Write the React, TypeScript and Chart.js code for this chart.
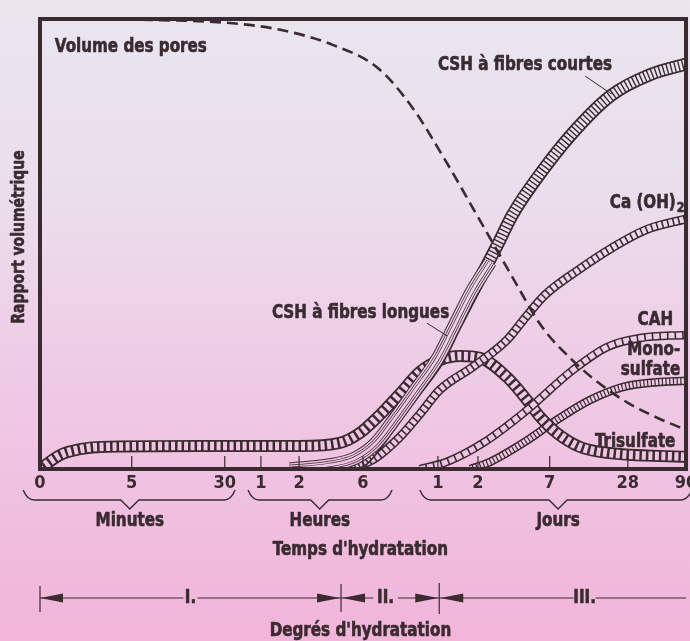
import React, { useEffect, useRef } from 'react';
import { Chart, registerables } from 'chart.js';

Chart.register(...registerables);

// ---------- data (x: position along the time axis 0-100, y: relative volume 0-100) ----------
const TICK_POS = [0, 14.2, 28.6, 34.2, 40.1, 50.0, 61.6, 67.8, 78.9, 91.0, 100];
const TICK_LABELS = ['0', '5', '30', '1', '2', '6', '1', '2', '7', '28', '90'];

const poreX = [0, 17.0, 29.4, 37.2, 45.4, 52.3, 57.6, 62.7, 67.8, 73.1, 77.7, 82.4, 85.9, 91.0, 96.3, 100];
const poreY = [100, 99.8, 99.1, 97.6, 94.2, 89.1, 80.4, 68.7, 56.0, 42.7, 31.6, 24.2, 19.8, 14.7, 10.9, 8.7];

const trisulfateX = [0, 3.1, 6.2, 9.3, 24.8, 40.2, 46.4, 49.5, 52.6, 55.7, 58.8, 61.9, 65.0, 68.1, 72.3, 75.4, 77.4, 80.0, 83.6, 87.8, 100];
const trisulfateY = [0, 3.1, 4.4, 4.9, 5.1, 5.1, 5.8, 8.0, 12.0, 16.7, 21.6, 24.2, 25.1, 24.7, 20.4, 15.3, 11.6, 8.0, 4.9, 3.6, 2.7];

const cshLongX = [38.7, 44.9, 48.8, 51.9, 55.0, 58.0, 61.6, 64.2, 66.9, 69.7];
const cshLongY = [0, 0.9, 2.4, 5.6, 11.3, 17.3, 24.7, 32.0, 39.6, 46.0];

const cshShortX = [46.4, 50.0, 51.9, 55.0, 58.0, 61.6, 64.2, 66.9, 69.2, 71.2, 73.1, 78.2, 83.3, 88.5, 94.4, 100];
const cshShortY = [0, 2.0, 5.1, 11.3, 17.1, 24.2, 31.6, 39.1, 45.3, 50.9, 56.4, 67.1, 76.0, 83.1, 87.6, 90.0];

const caohX = [48.0, 51.9, 55.7, 58.8, 61.9, 67.0, 72.3, 75.1, 78.2, 83.3, 88.5, 93.7, 100];
const caohY = [0, 2.4, 7.1, 12.2, 17.6, 22.7, 28.7, 33.6, 38.7, 44.2, 49.1, 53.1, 55.6];

const cahX = [58.8, 63.0, 68.6, 74.8, 82.5, 87.8, 92.9, 100];
const cahY = [0, 1.6, 5.8, 12.4, 22.0, 27.1, 29.1, 29.8];

const monoX = [66.6, 69.7, 74.8, 80.0, 85.1, 90.2, 95.5, 100];
const monoY = [0, 1.6, 5.8, 10.9, 15.3, 18.2, 19.3, 19.6];

// ---------- styles ----------
const INK = '#3a2b31';
const W = 690;
const H = 641;

// font chosen at runtime: a condensed bold sans, like the original typeface
const FONT = { family: "'DejaVu Sans Condensed', sans-serif", weight: 'bold', sx: 1 };

function pickFont() {
  const c = document.createElement('canvas').getContext('2d');
  if (!c) return;
  const sample = 'Volume des pores';
  const cands = ['Roboto', 'Open Sans', 'Noto Sans'];
  for (const fam of cands) {
    c.font = `bold 19px '${fam}'`;
    const w1 = c.measureText(sample).width;
    c.font = `10px serif`;
    c.font = `bold condensed 19px '${fam}'`;
    const ok = c.font.indexOf('condensed') >= 0;
    const w2 = c.measureText(sample).width;
    if (ok && w2 < w1 * 0.93) {
      FONT.family = `'${fam}', sans-serif`;
      FONT.weight = 'bold condensed';
      break;
    }
  }
  c.font = `${FONT.weight} 19px ${FONT.family}`;
  const w = c.measureText(sample).width;
  FONT.sx = Math.min(1, 152 / w);
}

const fstr = (size: number) => `${FONT.weight} ${size}px ${FONT.family}`;

const pts = (xs: number[], ys: number[]) => xs.map((x, i) => ({ x, y: ys[i] }));

let gradCache: any = null;
function bgGrad(ctx: CanvasRenderingContext2D) {
  if (gradCache && gradCache.ctx === ctx) return gradCache.g;
  const g = ctx.createLinearGradient(0, 0, 0, H);
  g.addColorStop(0, '#e9e6ee');
  g.addColorStop(0.3, '#ebdeec');
  g.addColorStop(0.55, '#eecde6');
  g.addColorStop(0.8, '#f0bfdf');
  g.addColorStop(1, '#f1b5d9');
  gradCache = { ctx, g };
  return g;
}

type Layer = { w: number; ink: boolean; dash?: number[] };

function band(label: string, data: any[], layers: Layer[], baseOrder: number) {
  return layers.map((l, i) => ({
    label: label + '_' + i,
    data,
    borderWidth: l.w,
    borderColor: l.ink ? INK : (c: any) => bgGrad(c.chart.ctx),
    borderDash: l.dash || [],
    borderCapStyle: 'butt',
    borderJoinStyle: 'round',
    pointRadius: 0,
    fill: false,
    cubicInterpolationMode: 'monotone',
    order: baseOrder - i,
  }));
}

function tri(ctx: CanvasRenderingContext2D, tipX: number, y: number, dir: number) {
  ctx.beginPath();
  ctx.moveTo(tipX, y);
  ctx.lineTo(tipX - dir * 23, y - 4.5);
  ctx.lineTo(tipX - dir * 23, y + 4.5);
  ctx.closePath();
  ctx.fill();
}

// draws text with the horizontal condensing factor, slightly emboldened
function txt(ctx: CanvasRenderingContext2D, t: string, x: number, y: number, align: CanvasTextAlign, size = 19) {
  ctx.save();
  ctx.font = fstr(size);
  ctx.textAlign = align;
  ctx.textBaseline = 'middle';
  ctx.fillStyle = INK;
  ctx.strokeStyle = INK;
  ctx.lineWidth = 0.6;
  ctx.lineJoin = 'round';
  ctx.translate(x, y);
  ctx.scale(FONT.sx, 1);
  ctx.fillText(t, 0, 0);
  ctx.strokeText(t, 0, 0);
  const w = ctx.measureText(t).width * FONT.sx;
  ctx.restore();
  return w;
}

const decor = {
  id: 'decor',
  beforeDraw(chart: any) {
    const ctx = chart.ctx;
    ctx.save();
    ctx.fillStyle = bgGrad(ctx);
    ctx.fillRect(0, 0, chart.width, chart.height);
    ctx.restore();
  },
  afterDatasetsDraw(chart: any) {
    const { ctx, chartArea: a, scales } = chart;
    const X = (v: number) => scales.x.getPixelForValue(v);
    const Y = (v: number) => scales.y.getPixelForValue(v);
    ctx.save();
    ctx.strokeStyle = INK;
    ctx.fillStyle = INK;
    ctx.lineWidth = 4;
    ctx.strokeRect(a.left, a.top, a.right - a.left, a.bottom - a.top);
    ctx.lineWidth = 1.2;
    TICK_POS.slice(1, -1).forEach((v) => {
      ctx.beginPath();
      ctx.moveTo(X(v), a.bottom);
      ctx.lineTo(X(v), a.bottom - 13);
      ctx.stroke();
    });
    txt(ctx, 'Volume des pores', X(2.3), Y(93.8), 'left');
    txt(ctx, 'CSH à fibres courtes', X(61.6), Y(89.8), 'left');
    txt(ctx, 'CSH à fibres longues', X(35.9), Y(34.7), 'left');
    txt(ctx, 'CAH', X(98.0), Y(33.1), 'right');
    txt(ctx, 'Mono-', X(99.1), Y(26.4), 'right');
    txt(ctx, 'sulfate', X(99.1), Y(22.0), 'right');
    txt(ctx, 'Trisulfate', X(85.9), Y(6.0), 'left');
    const caW = txt(ctx, 'Ca (OH)', X(88.2), Y(59.1), 'left');
    txt(ctx, '2', X(88.2) + caW + 1, Y(59.1) + 5, 'left', 14);
    ctx.lineWidth = 1;
    ctx.beginPath();
    ctx.moveTo(X(84.4), Y(87.3));
    ctx.lineTo(X(88.5), Y(83.3));
    ctx.moveTo(X(59.9), Y(32.4));
    ctx.lineTo(X(63.0), Y(29.6));
    ctx.stroke();
    ctx.restore();
  },
  afterDraw(chart: any) {
    const { ctx, chartArea: a, scales } = chart;
    const X = (v: number) => scales.x.getPixelForValue(v);
    const b = a.bottom;
    ctx.save();
    ctx.strokeStyle = INK;
    ctx.fillStyle = INK;
    ctx.lineWidth = 1.4;
    const brace = (x1: number, tip: number, x2: number, text: string) => {
      const p1 = X(x1), pt = X(tip), p2 = X(x2);
      const yE = b + 21, yL = b + 31, yT = b + 40;
      ctx.beginPath();
      ctx.moveTo(p1, yE);
      ctx.quadraticCurveTo(p1 + 4, yL, p1 + 11, yL);
      ctx.lineTo(pt - 9, yL);
      ctx.lineTo(pt, yT);
      ctx.lineTo(pt + 9, yL);
      ctx.lineTo(p2 - 11, yL);
      ctx.quadraticCurveTo(p2 - 4, yL, p2, yE);
      ctx.stroke();
      txt(ctx, text, pt, b + 52, 'center');
    };
    brace(-2.6, 13.9, 30.2, 'Minutes');
    brace(32.2, 43.3, 54.5, 'Heures');
    brace(58.8, 80.2, 100.9, 'Jours');
    const y = b + 129;
    const s0 = X(0), s1 = X(46.6), s2 = X(61.8), s3 = X(100);
    ctx.lineWidth = 1.2;
    ctx.beginPath();
    ctx.moveTo(s0, y);
    ctx.lineTo(X(22.2), y);
    ctx.moveTo(X(24.4), y);
    ctx.lineTo(s1, y);
    ctx.moveTo(s1, y);
    ctx.lineTo(X(51.6), y);
    ctx.moveTo(X(55.4), y);
    ctx.lineTo(s2, y);
    ctx.moveTo(s2, y);
    ctx.lineTo(X(82.6), y);
    ctx.moveTo(X(86.0), y);
    ctx.lineTo(s3, y);
    ctx.stroke();
    ctx.beginPath();
    ctx.moveTo(s0, y - 12); ctx.lineTo(s0, y + 14);
    ctx.moveTo(s1, y - 14); ctx.lineTo(s1, y + 14);
    ctx.moveTo(s2, y - 15); ctx.lineTo(s2, y + 16);
    ctx.stroke();
    tri(ctx, s0, y, -1);
    tri(ctx, s1 - 1, y, 1);
    tri(ctx, s1 + 1, y, -1);
    tri(ctx, s2 - 1, y, 1);
    tri(ctx, s2 + 1, y, -1);
    txt(ctx, 'I.', X(23.3), y, 'center');
    txt(ctx, 'II.', X(53.5), y, 'center');
    txt(ctx, 'III.', X(84.3), y, 'center');
    txt(ctx, "Degrés d'hydratation", X(49.6), b + 162, 'center');
    txt(ctx, "Temps d'hydratation", X(49.6), b + 81, 'center');
    ctx.save();
    ctx.translate(19, (a.top + a.bottom) / 2 - 7);
    ctx.rotate(-Math.PI / 2);
    txt(ctx, 'Rapport volumétrique', 0, 0, 'center', 17.5);
    ctx.restore();
    ctx.restore();
  },
};

export default function App() {
  const ref = useRef<HTMLCanvasElement | null>(null);
  useEffect(() => {
    document.body.style.margin = '0';
    pickFont();
    const canvas = ref.current;
    if (!canvas) return;
    const datasets: any[] = [
      {
        label: 'Volume des pores',
        data: pts(poreX, poreY),
        borderColor: INK,
        borderWidth: 2.6,
        borderDash: [11, 6],
        pointRadius: 0,
        fill: false,
        cubicInterpolationMode: 'monotone',
        order: 0,
      },
      // long fibres are drawn over the short-fibre band in its lower part
      ...band('CSH longues', pts(cshLongX, cshLongY), [
        { w: 13.5, ink: true },
        { w: 11.5, ink: false },
        { w: 8.5, ink: true },
        { w: 7, ink: false },
        { w: 4.2, ink: true },
        { w: 2.8, ink: false },
      ], 9),
      ...band('CSH courtes', pts(cshShortX, cshShortY), [
        { w: 13, ink: true },
        { w: 9.5, ink: false, dash: [2.6, 1.4] },
      ], 13),
      ...band('Ca(OH)2', pts(caohX, caohY), [
        { w: 9, ink: true },
        { w: 6, ink: false, dash: [4, 1.6] },
      ], 17),
      ...band('CAH', pts(cahX, cahY), [
        { w: 8.5, ink: true },
        { w: 5.5, ink: false, dash: [6, 1.6] },
      ], 19),
      ...band('Trisulfate', pts(trisulfateX, trisulfateY), [
        { w: 12, ink: true },
        { w: 8.5, ink: false, dash: [4, 2.5] },
      ], 21),
      ...band('Monosulfate', pts(monoX, monoY), [
        { w: 8.5, ink: true },
        { w: 5.5, ink: false, dash: [2.5, 1.2] },
      ], 23),
    ];
    const tickFont = { family: FONT.family, size: 18, weight: FONT.weight };
    const chart = new Chart(canvas, {
      type: 'line',
      data: { datasets },
      plugins: [decor],
      options: {
        responsive: false,
        animation: false,
        layout: { padding: { top: 19, right: 4, left: 0, bottom: 0 } },
        plugins: { legend: { display: false }, tooltip: { enabled: false } },
        scales: {
          x: {
            type: 'linear',
            min: 0,
            max: 100,
            afterBuildTicks: (s: any) => {
              s.ticks = TICK_POS.map((v) => ({ value: v }));
            },
            afterFit: (s: any) => {
              s.height = H - 469;
              s.paddingLeft = 0;
              s.paddingRight = 0;
            },
            grid: { display: false, drawTicks: false },
            border: { display: false },
            ticks: {
              autoSkip: false,
              maxRotation: 0,
              minRotation: 0,
              padding: 4,
              color: INK,
              font: tickFont as any,
              callback: (v: any) => TICK_LABELS[TICK_POS.indexOf(Number(v))] ?? '',
            },
            title: { display: false },
          },
          y: {
            min: 0,
            max: 100,
            afterFit: (s: any) => {
              s.width = 40;
              s.paddingTop = 0;
              s.paddingBottom = 0;
            },
            grid: { display: false },
            border: { display: false },
            ticks: { display: false },
            title: { display: false },
          },
        },
      } as any,
    });
    return () => chart.destroy();
  }, []);
  return <canvas ref={ref} width={W} height={H} style={{ display: 'block' }} />;
}
